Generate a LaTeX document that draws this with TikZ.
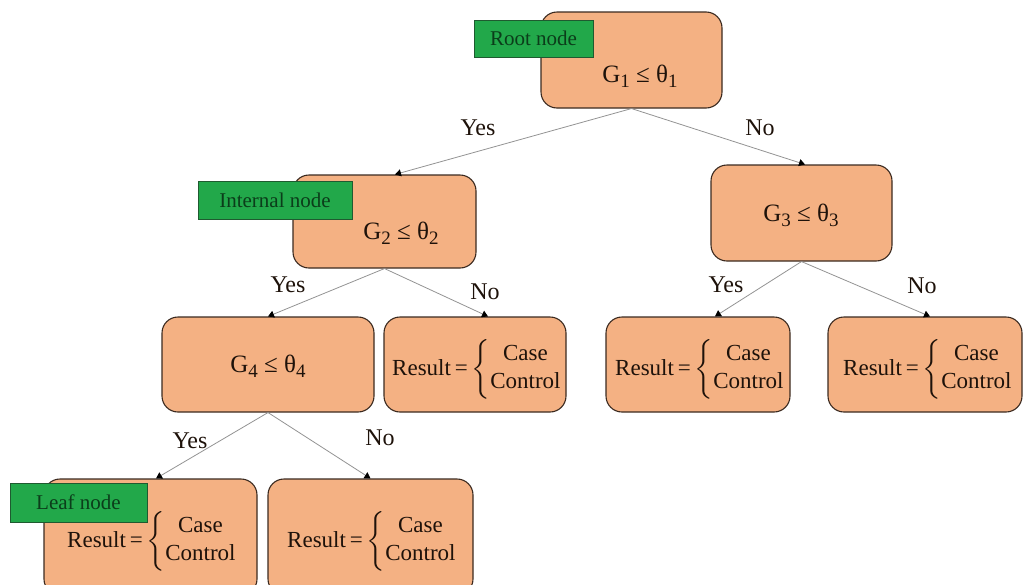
\documentclass[tikz,border=0pt]{standalone}
\usepackage{fontspec}
\usepackage{amsmath}
\setmainfont{Liberation Serif}
\usetikzlibrary{arrows.meta}
\definecolor{boxfill}{HTML}{F4B183}
\definecolor{boxdraw}{HTML}{3B2A20}
\definecolor{tagfill}{HTML}{22A84A}
\definecolor{tagtext}{HTML}{0B3D1A}
\definecolor{tagdraw}{HTML}{1F5A30}
\definecolor{txt}{HTML}{1E120A}
\begin{document}
\begin{tikzpicture}[x=1pt,y=-1pt,
  tbox/.style={draw=boxdraw,line width=1.1pt,fill=boxfill,rounded corners=16pt,inner sep=0pt},
  ttext/.style={text=txt,font=\fontsize{23}{27}\selectfont,inner sep=0pt},
  gtext/.style={text=txt,font=\fontsize{25}{29}\selectfont,inner sep=0pt},
  tag/.style={draw=tagdraw,line width=0.6pt,fill=tagfill,text=tagtext,font=\fontsize{21}{25}\selectfont,inner sep=0pt},
  edge/.style={draw=gray!85,line width=0.8pt,-{Triangle[width=7pt,length=6pt,black]}},
  elab/.style={text=txt,font=\fontsize{24}{28}\selectfont,inner sep=0pt}]
\useasboundingbox (0,0) rectangle (1025,584);
\newcommand{\resulttext}{Result\,=\,$\left\{\begin{array}{@{}c@{}}\text{Case}\\[1pt]\text{Control}\end{array}\right.$}
\newcommand{\subn}[1]{\raisebox{-5pt}{\fontsize{19}{21}\selectfont #1}}
% boxes
\node[tbox,minimum width=181pt,minimum height=96pt] (root) at (631.5,60) {};
\node[tbox,minimum width=183pt,minimum height=93pt] (g2) at (384.5,221.5) {};
\node[tbox,minimum width=181pt,minimum height=96pt] (g3) at (801.5,213) {};
\node[tbox,minimum width=212pt,minimum height=95pt] (g4) at (268,364.5) {};
\node[tbox,minimum width=182pt,minimum height=95pt] (r2) at (475,364.5) {};
\node[tbox,minimum width=184pt,minimum height=95pt] (r3) at (698,364.5) {};
\node[tbox,minimum width=194pt,minimum height=95pt] (r4) at (925,364.5) {};
\node[tbox,minimum width=213pt,minimum height=116pt] (l1) at (150.5,537) {};
\node[tbox,minimum width=205pt,minimum height=116pt] (l2) at (370.5,537) {};
% texts
\node[gtext] (t1) at (640,76) {G\subn{1} ≤ θ\subn{1}};
\node[gtext] (t2) at (401,233) {G\subn{2} ≤ θ\subn{2}};
\node[gtext] (t3) at (801,215) {G\subn{3} ≤ θ\subn{3}};
\node[gtext] (t4) at (268,366) {G\subn{4} ≤ θ\subn{4}};
\node[ttext] (tr2) at (477,369) {\resulttext};
\node[ttext] (tr3) at (700,369) {\resulttext};
\node[ttext] (tr4) at (928,369) {\resulttext};
\node[ttext] (tl1) at (152,541) {\resulttext};
\node[ttext] (tl2) at (372,541) {\resulttext};
% tags
\node[tag,minimum width=119pt,minimum height=37pt] (tagroot) at (533.5,38.5) {Root node};
\node[tag,minimum width=154pt,minimum height=38pt] (tagint) at (275,200) {Internal node};
\node[tag,minimum width=137pt,minimum height=39pt] (tagleaf) at (78.5,502.5) {Leaf node};
% edges
\draw[edge] (root.south) -- (g2.north -| 395,0);
\draw[edge] (root.south) -- (g3.north -| 805,0);
\draw[edge] (g2.south) -- (g4.north);
\draw[edge] (g2.south) -- (r2.north -| 488,0);
\draw[edge] (g3.south) -- (r3.north -| 715,0);
\draw[edge] (g3.south) -- (r4.north -| 930,0);
\draw[edge] (g4.south) -- (l1.north -| 156,0);
\draw[edge] (g4.south) -- (l2.north);
% edge labels
\node[elab] (y1) at (478,128) {Yes};
\node[elab] (n1) at (760,128) {No};
\node[elab] (y2) at (288,285) {Yes};
\node[elab] (n2) at (485,292) {No};
\node[elab] (y3) at (726,285) {Yes};
\node[elab] (n3) at (922,286) {No};
\node[elab] (y4) at (190,441) {Yes};
\node[elab] (n4) at (380,438) {No};
\end{tikzpicture}
\end{document}
